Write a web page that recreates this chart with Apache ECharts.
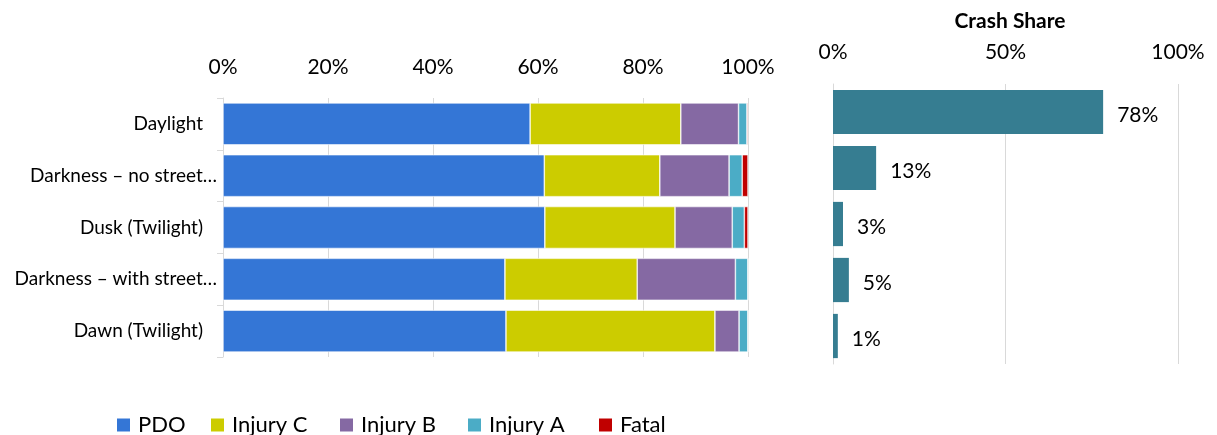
<!DOCTYPE html>
<html><head><meta charset="utf-8">
<script src="https://cdn.jsdelivr.net/npm/echarts@6/dist/echarts.min.js"></script>
<style>html,body{margin:0;padding:0;background:#fff}#c{width:1217px;height:435px}</style>
</head><body><div id="c"></div>
<script>
const categories = ['Daylight', 'Darkness – no street…', 'Dusk (Twilight)', 'Darkness – with street…', 'Dawn (Twilight)'];
const pdo     = [58.5, 61.2, 61.3, 53.7, 53.9];
const injuryC = [28.7, 22.0, 24.8, 25.2, 39.8];
const injuryB = [11.0, 13.2, 10.9, 18.7, 4.6];
const injuryA = [1.6, 2.5, 2.3, 2.4, 1.7];
const fatal   = [0.2, 1.1, 0.7, 0.0, 0.0];
const crashShare = [78.3, 12.5, 2.9, 4.6, 1.4];
const leftTicks = [0, 20, 40, 60, 80, 100];
const rightTicks = [0, 50, 100];

const font = 'Lato, "Noto Sans", sans-serif';
const colors = ['#3476d6', '#cccc00', '#8569a3', '#4bacc6', '#c00000'];
const names = ['PDO', 'Injury C', 'Injury B', 'Injury A', 'Fatal'];
const legendLeft = [110, 204, 333, 461, 592];
const vals = [pdo, injuryC, injuryB, injuryA, fatal];

const chart = echarts.init(document.getElementById('c'));
const stackSeries = names.map((n, i) => ({
  name: n, type: 'bar', stack: 'lt', xAxisIndex: 0, yAxisIndex: 0,
  data: vals[i], barCategoryGap: '19%',
  itemStyle: { color: colors[i], borderColor: '#ffffff', borderWidth: 0.6 },
  emphasis: { disabled: true }
}));
chart.setOption({
  animation: false,
  textStyle: { fontFamily: font },
  title: { text: 'Crash Share', left: 1005, textAlign: 'center', top: 6,
    textStyle: { fontFamily: font, fontSize: 21, fontWeight: 'bold', color: '#000' } },
  legend: names.map((n, i) => ({
    data: [n], left: legendLeft[i], top: 409, itemWidth: 15, itemHeight: 15, itemGap: 0,
    icon: 'rect', textStyle: { fontFamily: font, fontSize: 22, color: '#000', padding: [0, 0, 0, 2] }
  })),
  grid: [
    { left: 223, width: 525, top: 98, height: 259 },
    { left: 833, width: 345, top: 84, height: 280 }
  ],
  xAxis: [
    { gridIndex: 0, type: 'value', position: 'top', min: 0, max: 100, interval: 20,
      axisLine: { show: false }, axisTick: { show: false },
      splitLine: { lineStyle: { color: '#d9d9d9', width: 1 } },
      axisLabel: { fontSize: 21, color: '#000', margin: 20,
        formatter: v => leftTicks.includes(v) ? v + '%' : '' } },
    { gridIndex: 1, type: 'value', position: 'top', min: 0, max: 100, interval: 50,
      axisLine: { show: false }, axisTick: { show: false },
      splitLine: { lineStyle: { color: '#d9d9d9', width: 1 } },
      axisLabel: { fontSize: 21, color: '#000', margin: 21,
        formatter: v => rightTicks.includes(v) ? v + '%' : '' } }
  ],
  yAxis: [
    { gridIndex: 0, type: 'category', data: categories, inverse: true,
      axisLine: { show: true, lineStyle: { color: '#d9d9d9' } },
      axisTick: { show: true, length: 6, lineStyle: { color: '#d9d9d9' } },
      axisLabel: { fontSize: 19, color: '#000', margin: 6,
        formatter: v => v.endsWith('…') ? '{a|' + v + '}' : '{b|' + v + '}',
        rich: { a: { fontSize: 19, fontFamily: font, color: '#000' },
                b: { fontSize: 19, fontFamily: font, color: '#000', padding: [0, 14, 0, 0] } } } },
    { gridIndex: 1, type: 'category', data: categories, inverse: true,
      axisLine: { show: true, lineStyle: { color: '#d9d9d9' } },
      axisTick: { show: false }, axisLabel: { show: false } }
  ],
  series: stackSeries.concat([{
    name: 'Crash Share', type: 'bar', xAxisIndex: 1, yAxisIndex: 1,
    data: crashShare, barCategoryGap: '21%',
    itemStyle: { color: '#367d91' },
    label: { show: true, position: 'right', distance: 14, fontSize: 21, color: '#000',
      fontFamily: font, offset: [0, 3], formatter: p => Math.round(p.value) + '%' },
    emphasis: { disabled: true }
  }])
});
</script></body></html>
